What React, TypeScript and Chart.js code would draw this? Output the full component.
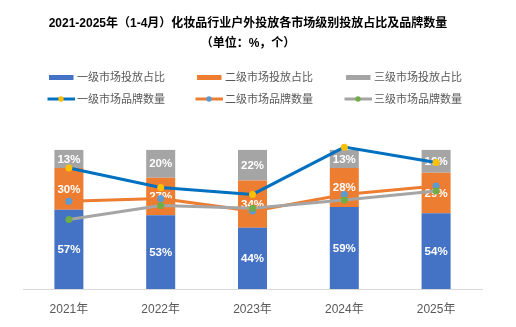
import React, { useEffect, useRef } from "react";
import { Chart, registerables } from "chart.js";

Chart.register(...registerables);

const categories = ["2021年", "2022年", "2023年", "2024年", "2025年"];
const tier1Share = [57, 53, 44, 59, 54.4];
const tier2Share = [30, 27, 34, 28, 29.2];
const tier3Share = [13, 20, 22, 13, 16.4];
const tier1Brands = [87, 73, 68, 102, 91];
const tier2Brands = [63, 65, 56, 68, 74];
const tier3Brands = [50, 60, 58, 64, 70.5];
const titleLines = [
  "2021-2025年（1-4月）化妆品行业户外投放各市场级别投放占比及品牌数量",
  "（单位：%，个）",
];
const seriesNames = [
  "一级市场投放占比",
  "二级市场投放占比",
  "三级市场投放占比",
  "一级市场品牌数量",
  "二级市场品牌数量",
  "三级市场品牌数量",
];

const FONT = "'Liberation Sans', 'Noto Sans CJK SC', sans-serif";

const overlayPlugin = {
  id: "overlay",
  afterDatasetDraw(chart: any, args: any) {
    const ds = chart.data.datasets[args.index];
    if (ds.type !== "bar") return;
    const ctx = chart.ctx;
    ctx.save();
    ctx.fillStyle = "#FFFFFF";
    ctx.font = `bold 11.5px ${FONT}`;
    ctx.textAlign = "center";
    ctx.textBaseline = "middle";
    args.meta.data.forEach((el: any, i: number) => {
      const v = ds.data[i];
      const cy = (el.y + el.base) / 2;
      ctx.fillText(Math.round(v) + "%", el.x, cy + 0.5);
    });
    ctx.restore();
  },
  afterDraw(chart: any) {
    const ctx = chart.ctx;
    ctx.save();
    // title
    ctx.fillStyle = "#000000";
    ctx.font = `bold 12px ${FONT}`;
    ctx.textAlign = "center";
    ctx.textBaseline = "middle";
    ctx.fillText(titleLines[0], 248, 24);
    ctx.fillText(titleLines[1], 248, 44);
    // legend
    const colX = [49, 197, 346];
    const rowY = [77.5, 99];
    ctx.font = `11px ${FONT}`;
    ctx.textAlign = "left";
    chart.data.datasets.forEach((ds: any, i: number) => {
      const x = colX[i % 3];
      const y = rowY[Math.floor(i / 3)];
      if (ds.type === "bar") {
        ctx.fillStyle = ds.backgroundColor;
        ctx.fillRect(x, y - 2.5, 24.5, 5);
      } else {
        ctx.strokeStyle = ds.borderColor;
        ctx.lineWidth = 3;
        ctx.beginPath();
        ctx.moveTo(x - 1.5, y);
        ctx.lineTo(x + 26, y);
        ctx.stroke();
        ctx.fillStyle = ds.pointBackgroundColor;
        ctx.beginPath();
        ctx.arc(x + 12, y, 2.7, 0, Math.PI * 2);
        ctx.fill();
      }
      ctx.fillStyle = "#595959";
      ctx.fillText(ds.label, x + 28, y + 0.5);
    });
    ctx.restore();
  },
};

export default function App() {
  const ref = useRef<HTMLCanvasElement | null>(null);
  useEffect(() => {
    if (!ref.current) return;
    const barColors = ["#4472C4", "#ED7D31", "#A5A5A5"];
    const lineColors = ["#0070C0", "#ED7D31", "#A5A5A5"];
    const markerColors = ["#FFC000", "#5B9BD5", "#70AD47"];
    const shares = [tier1Share, tier2Share, tier3Share];
    const brands = [tier1Brands, tier2Brands, tier3Brands];
    const datasets: any[] = [];
    shares.forEach((d, i) => {
      datasets.push({
        type: "bar",
        label: seriesNames[i],
        data: d,
        backgroundColor: barColors[i],
        yAxisID: "y",
        stack: "s",
        order: 10,
        categoryPercentage: 1,
        barPercentage: 0.316,
      });
    });
    brands.forEach((d, i) => {
      datasets.push({
        type: "line",
        label: seriesNames[3 + i],
        data: d,
        borderColor: lineColors[i],
        backgroundColor: lineColors[i],
        pointBackgroundColor: markerColors[i],
        pointBorderWidth: 0,
        pointRadius: 3.5,
        borderWidth: 3,
        tension: 0,
        yAxisID: "y1",
        order: 3 - i,
        clip: false,
      });
    });
    const chart = new Chart(ref.current, {
      type: "bar",
      data: { labels: categories, datasets },
      options: {
        responsive: false,
        animation: false,
        devicePixelRatio: 1,
        layout: { padding: { top: 136, left: 23, right: 34, bottom: 0 } },
        plugins: {
          legend: { display: false },
          title: { display: false },
          tooltip: { enabled: false },
        },
        scales: {
          x: {
            stacked: true,
            grid: { display: false, drawTicks: false },
            border: { display: true, color: "#D9D9D9", width: 1 },
            ticks: { color: "#595959", font: { size: 12, family: FONT }, padding: 13, maxRotation: 0 },
            afterFit: (scale: any) => {
              scale.height = 38;
            },
          },
          y: { stacked: true, display: false, min: 0, max: 110 },
          y1: { display: false, min: 0, max: 110 },
        },
      },
      plugins: [overlayPlugin],
    });
    return () => chart.destroy();
  }, []);
  return (
    <div style={{ position: "fixed", left: 0, top: 0, width: 516, height: 327, background: "#fff" }}>
      <canvas ref={ref} width={516} height={327} style={{ width: 516, height: 327, display: "block" }} />
    </div>
  );
}
